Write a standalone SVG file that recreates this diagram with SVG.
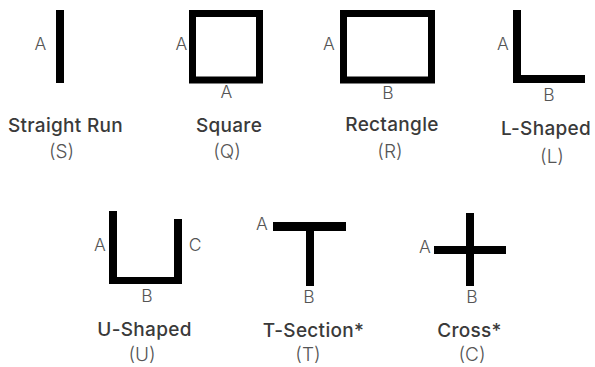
<svg xmlns="http://www.w3.org/2000/svg" width="595" height="367" viewBox="0 0 595 367">
<style>
.bar{fill:#000}
.frame{fill:none;stroke:#000;stroke-width:7}
.lbl{font-family:Inter,"Open Sans",sans-serif;font-weight:300;font-size:17.5px;fill:#555;text-anchor:middle}
.ttl{font-family:Inter,"Open Sans",sans-serif;font-weight:500;font-size:19px;letter-spacing:0.3px;fill:#3a3a3a;text-anchor:middle}
.code{font-family:Inter,"Open Sans",sans-serif;font-weight:300;font-size:19px;fill:#555;text-anchor:middle}
</style>
<rect width="595" height="367" fill="#fff"/>
<g id="straight">
<rect class="bar" x="56" y="10" width="8" height="73"/>
<text class="lbl" x="40.5" y="49.5">A</text>
<text class="ttl" x="65.5" y="132">Straight Run</text>
<text class="code" x="61.5" y="158">(S)</text>
</g>
<g id="square">
<rect class="frame" x="192.5" y="13.5" width="67" height="66.5"/>
<text class="lbl" x="181.5" y="49.5">A</text>
<text class="lbl" x="226.5" y="97.5">A</text>
<text class="ttl" x="229" y="132">Square</text>
<text class="code" x="227" y="158">(Q)</text>
</g>
<g id="rectangle">
<rect class="frame" x="343.5" y="13.5" width="88" height="66.5"/>
<text class="lbl" x="329" y="49.5">A</text>
<text class="lbl" x="388" y="98.5">B</text>
<text class="ttl" x="392" y="131">Rectangle</text>
<text class="code" x="390" y="158">(R)</text>
</g>
<g id="lshaped">
<rect class="bar" x="513" y="10" width="8" height="73"/>
<rect class="bar" x="513" y="75" width="72" height="8"/>
<text class="lbl" x="503" y="49.5">A</text>
<text class="lbl" x="549" y="100.5">B</text>
<text class="ttl" x="546" y="135">L-Shaped</text>
<text class="code" x="552" y="163">(L)</text>
</g>
<g id="ushaped">
<rect class="bar" x="109" y="211" width="8" height="73"/>
<rect class="bar" x="109" y="277" width="73" height="7"/>
<rect class="bar" x="174" y="219" width="8" height="65"/>
<text class="lbl" x="100" y="250.5">A</text>
<text class="lbl" x="195" y="250.5">C</text>
<text class="lbl" x="147" y="301.5">B</text>
<text class="ttl" x="144.5" y="336">U-Shaped</text>
<text class="code" x="142" y="361">(U)</text>
</g>
<g id="tsection">
<rect class="bar" x="273" y="222" width="73" height="9"/>
<rect class="bar" x="306" y="222" width="8" height="64"/>
<text class="lbl" x="262" y="229.5">A</text>
<text class="lbl" x="309" y="302.5">B</text>
<text class="ttl" x="313.5" y="337">T-Section*</text>
<text class="code" x="308" y="361">(T)</text>
</g>
<g id="cross">
<rect class="bar" x="434" y="246" width="72" height="8"/>
<rect class="bar" x="466" y="213" width="8" height="73"/>
<text class="lbl" x="425" y="252.5">A</text>
<text class="lbl" x="472" y="302.5">B</text>
<text class="ttl" x="469.5" y="337">Cross*</text>
<text class="code" x="472" y="361">(C)</text>
</g>
<g id="connectors"></g>
</svg>
